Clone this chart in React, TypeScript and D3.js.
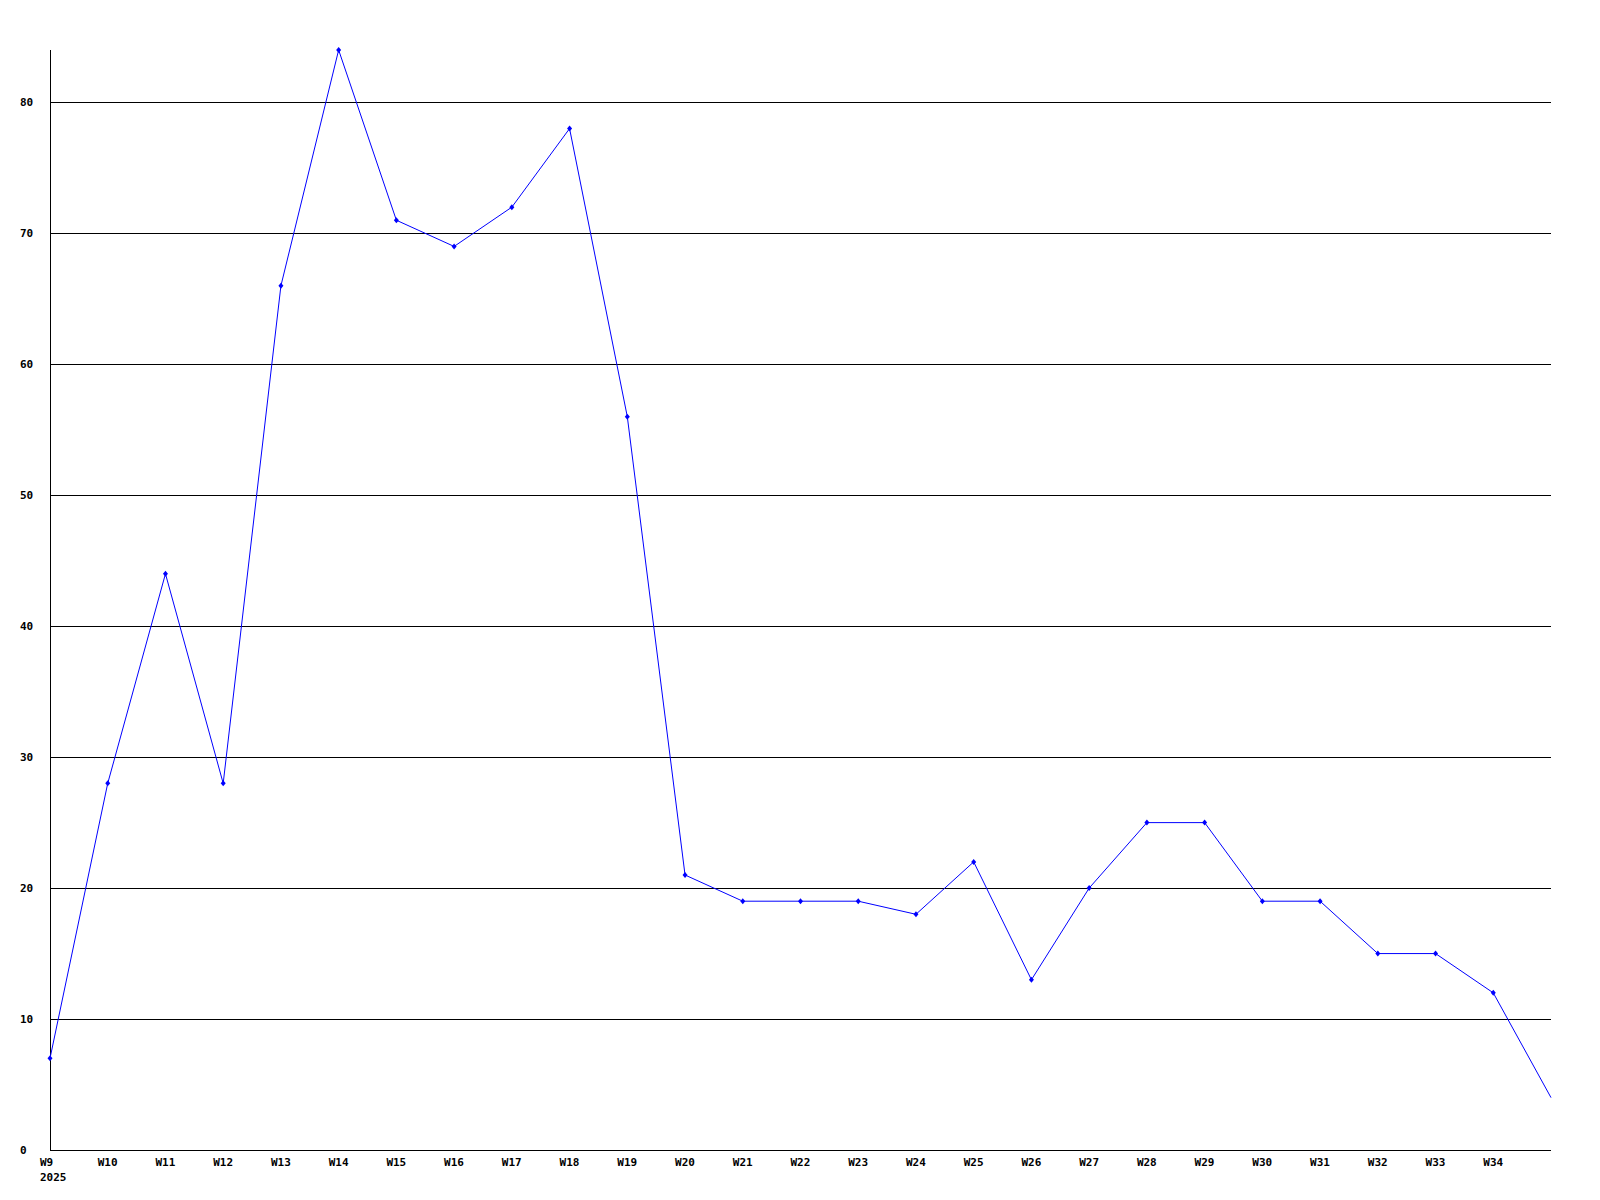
import React from "react";
import * as d3 from "d3";

const weeks = ["W9","W10","W11","W12","W13","W14","W15","W16","W17","W18","W19","W20","W21","W22","W23","W24","W25","W26","W27","W28","W29","W30","W31","W32","W33","W34","W35"];
const labeledWeeks = ["W9","W10","W11","W12","W13","W14","W15","W16","W17","W18","W19","W20","W21","W22","W23","W24","W25","W26","W27","W28","W29","W30","W31","W32","W33","W34"];
const values = [7,28,44,28,66,84,71,69,72,78,56,21,19,19,19,18,22,13,20,25,25,19,19,15,15,12,4];
const yTicks = [0,10,20,30,40,50,60,70,80];
const yearLabel = "2025";

export default function App() {
  const W = 1600, H = 1200;
  const left = 50, right = 1551, top = 50, bottom = 1150;
  const x = d3.scalePoint<string>().domain(weeks).range([left, right]);
  const y = d3.scaleLinear().domain([0, 84]).range([bottom, top]);
  const line = d3.line<number>().x((_, i) => x(weeks[i])!).y(d => y(d));
  const font = "'DejaVu Sans Mono', monospace";
  return (
    <svg width={W} height={H} style={{ position: "absolute", left: 0, top: 0, background: "#fff" }}>
      <rect x={0} y={0} width={W} height={H} fill="#fff" />
      {yTicks.filter(t => t > 0).map(t => (
        <line key={t} x1={left} x2={right} y1={Math.round(y(t)) + 0.5} y2={Math.round(y(t)) + 0.5} stroke="#000" strokeWidth={1} shapeRendering="crispEdges" />
      ))}
      <line x1={left + 0.5} x2={left + 0.5} y1={top} y2={bottom} stroke="#000" shapeRendering="crispEdges" />
      <line x1={left} x2={right} y1={bottom + 0.5} y2={bottom + 0.5} stroke="#000" shapeRendering="crispEdges" />
      {yTicks.map(t => (
        <text key={t} x={20} y={y(t) + 1} dominantBaseline="middle" fontFamily={font} fontWeight="bold" fontSize={11} fill="#000">{t}</text>
      ))}
      {labeledWeeks.map(w => (
        <text key={w} x={x(w)! - 10} y={1163} dominantBaseline="middle" fontFamily={font} fontWeight="bold" fontSize={11} fill="#000">{w}</text>
      ))}
      <text x={40} y={1178} dominantBaseline="middle" fontFamily={font} fontWeight="bold" fontSize={11} fill="#000">{yearLabel}</text>
      <path d={line(values) || ""} fill="none" stroke="#0000ff" strokeWidth={1} />
      {values.slice(0, labeledWeeks.length).map((v, i) => {
        const cx = x(weeks[i])!, cy = y(v);
        return (
          <path key={i} d={`M${cx},${cy - 3}L${cx + 2.5},${cy}L${cx},${cy + 3}L${cx - 2.5},${cy}Z`} fill="#0000ff" />
        );
      })}
    </svg>
  );
}
